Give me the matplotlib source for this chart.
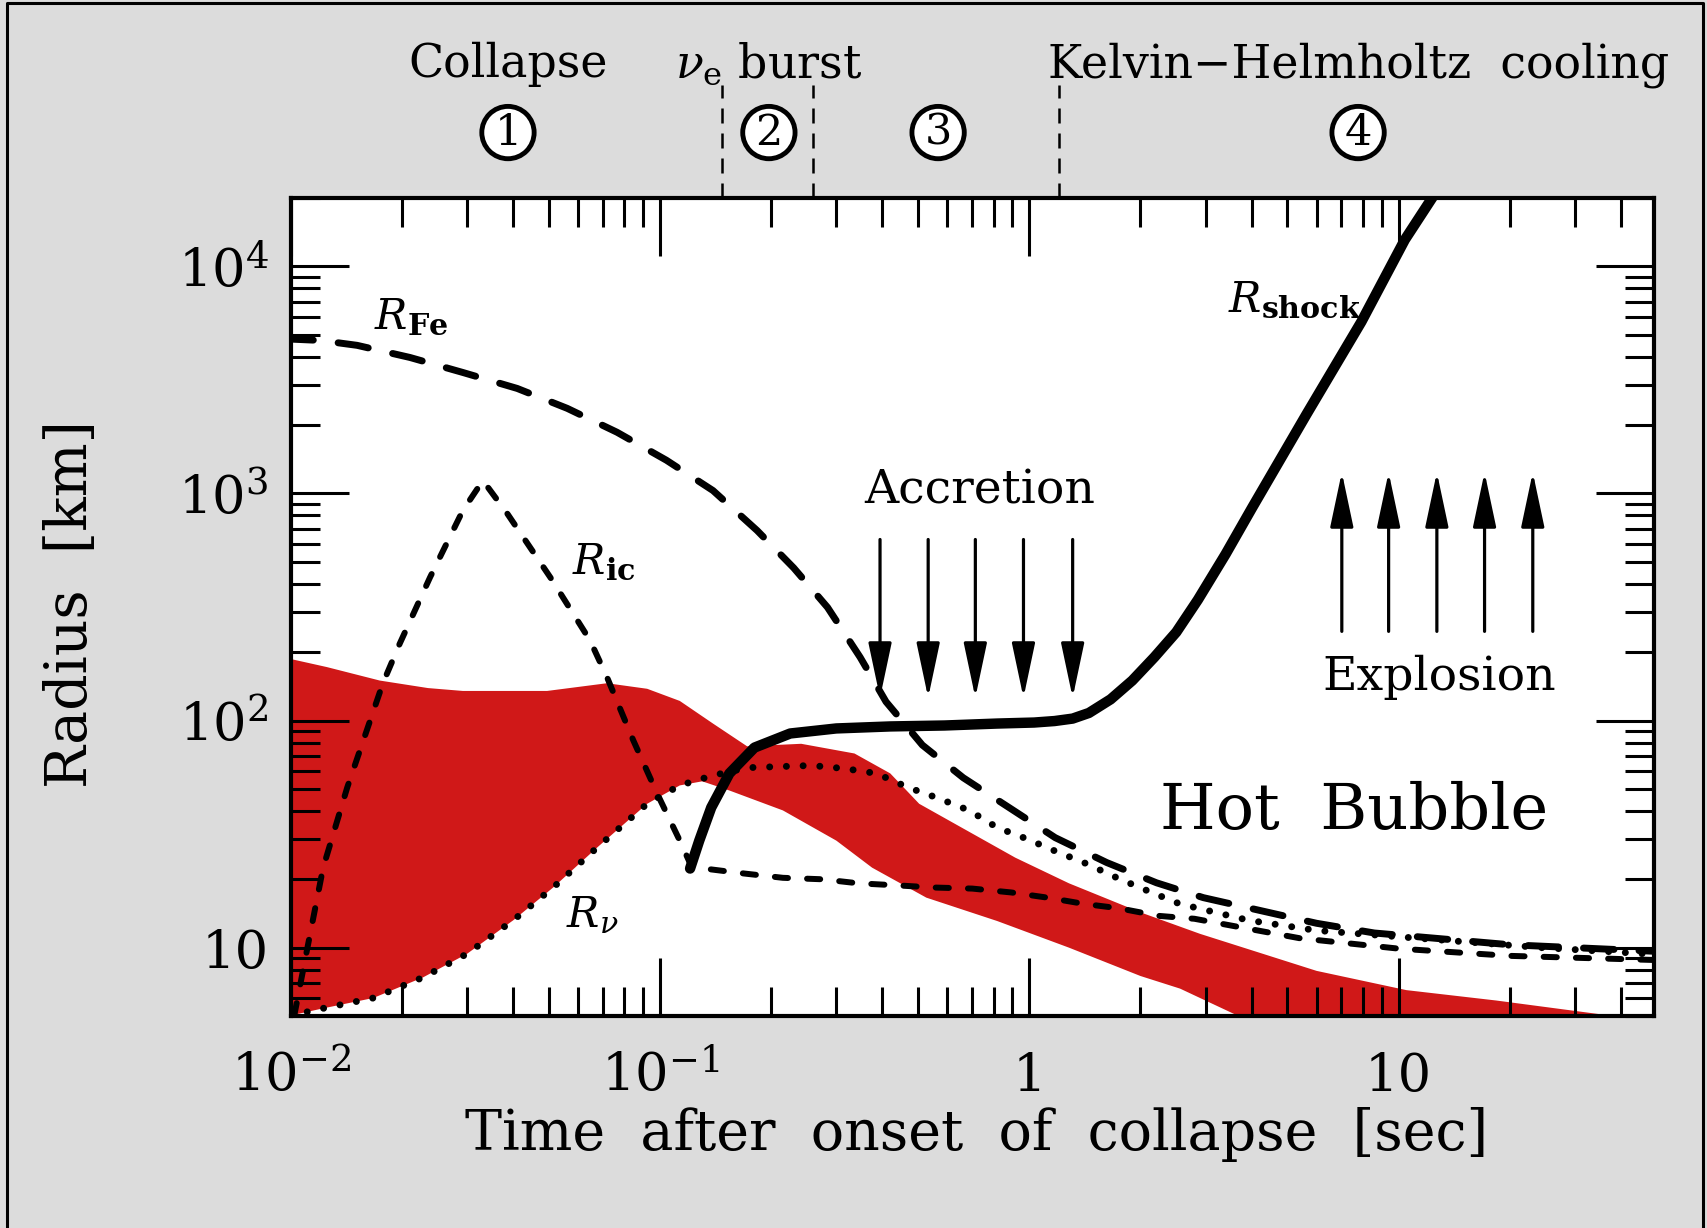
import numpy as np
import matplotlib
matplotlib.use("Agg")
import matplotlib.pyplot as plt
from matplotlib.lines import Line2D
import matplotlib.transforms as mtransforms

plt.rcParams["font.family"] = ["DejaVu Serif"]
plt.rcParams["mathtext.fontset"] = "dejavuserif"

# ---- data (time in s, radius in km) ----
fe_t = [0.0095, 0.012, 0.0151, 0.021, 0.0292, 0.041, 0.056, 0.0764, 0.104, 0.139,
        0.183, 0.23, 0.284, 0.348, 0.409, 0.513, 0.662, 0.889, 1.175, 1.62, 2.21,
        2.96, 6.0, 8.6, 20.0, 52.0]
fe_r = [4800, 4720, 4490, 3970, 3410, 2900, 2370, 1860, 1400, 1030,
        687, 470, 315, 190, 121, 78, 56, 41, 30.5, 23.7, 19.3,
        16.6, 12.8, 11.6, 10.3, 9.6]

ic_t = [0.0102, 0.01104, 0.01222, 0.0142, 0.01774, 0.0197, 0.0238, 0.0292, 0.0331,
        0.0385, 0.0504, 0.0646, 0.0718, 0.0845, 0.0982, 0.113, 0.122, 0.1315, 0.169,
        0.215, 0.275, 0.344, 0.439, 0.549, 0.700, 0.893, 1.12, 1.40, 1.75, 2.24,
        2.80, 5.4, 10.0, 20.0, 52.0]
ic_r = [5.0, 9.7, 22.5, 50.7, 146, 218, 427, 841, 1140,
        817, 427, 225, 155, 82, 47.6, 29.6, 22.5, 22.3, 21.2,
        20.3, 20.0, 19.2, 18.8, 18.4, 18.2, 17.5, 16.6, 15.6, 14.9, 13.8,
        13.4, 11.0, 9.9, 9.2, 8.8]

nu_t = [0.0100, 0.0104, 0.0122, 0.0167, 0.0228, 0.030, 0.040, 0.0513, 0.0675, 0.0922,
        0.113, 0.139, 0.172, 0.257, 0.315, 0.385, 0.470, 0.560, 0.687, 0.818, 0.98,
        1.17, 1.43, 1.75, 2.09, 2.55, 3.92, 6.0, 10.5, 24.4, 52.0]
nu_r = [5.0, 5.1, 5.4, 6.0, 7.4, 9.4, 13.2, 18.4, 27.6, 43,
        51.8, 57.3, 62, 63.4, 61.5, 58.5, 50.7, 45.8, 40.2, 33.8, 30.2,
        26.7, 23.4, 20.1, 17.8, 15.6, 13.2, 11.9, 11.1, 10.0, 9.3]

shock_t = [0.1205, 0.1276, 0.1375, 0.154, 0.180, 0.225, 0.300, 0.420, 0.589, 0.818,
           1.03, 1.17, 1.31, 1.45, 1.66, 1.90, 2.18, 2.50, 2.86, 3.40, 4.02, 5.64,
           7.93, 10.4, 12.4]
shock_r = [22.3, 29.6, 41.4, 58.5, 76, 87.7, 92.3, 94.2, 95.1, 97,
           98, 99.5, 102, 108, 124, 150, 190, 245, 340, 540, 870, 2240,
           5700, 13100, 20300]

# red band (neutrino-sphere region)
band_up_t = [0.0095, 0.0125, 0.0174, 0.0235, 0.0292, 0.0494, 0.0718, 0.0922, 0.113, 0.139,
             0.172, 0.241, 0.336, 0.420, 0.503, 0.655, 0.916, 1.28, 2.0, 2.90, 6.0, 10.5,
             18.4, 38.2, 52.0]
band_up_r = [190, 172, 150, 139, 135, 135, 146, 138, 122, 97,
             77, 79, 71.6, 58.5, 43, 33.8, 24.9, 19.2, 14.3, 11.5, 7.9, 6.5,
             5.85, 5.0, 4.6]
band_lo_t = [0.0095, 0.0104, 0.0122, 0.0167, 0.0228, 0.030, 0.040, 0.0513, 0.0675, 0.0922,
             0.113, 0.130, 0.154, 0.215, 0.300, 0.375, 0.526, 0.818, 1.28, 2.0, 2.56,
             3.59, 52.0]
band_lo_r = [4.0, 5.1, 5.4, 6.0, 7.4, 9.4, 13.2, 18.4, 27.6, 43,
             51.8, 54, 49.2, 40.2, 29.6, 22.5, 16.6, 13.1, 10.0, 7.5, 6.6,
             5.1, 3.0]

phase_bounds = [0.147, 0.26, 1.205]
phase_num_t = [0.0387, 0.197, 0.566, 7.77]
phase_num = ["1", "2", "3", "4"]

accr_t = [0.394, 0.532, 0.714, 0.964, 1.31]
accr_r = (627, 126)
expl_t = [7.02, 9.40, 12.7, 17.1, 23.1]
expl_r = (247, 1240)

red = "#d01818"

fig = plt.figure(figsize=(17.07, 12.28), dpi=100)
fig.patch.set_facecolor("#dcdcdc")
ax = fig.add_axes([291 / 1707, 1 - 1016 / 1228, 1363 / 1707, 818 / 1228])
ax.set_facecolor("white")
ax.set_xscale("log")
ax.set_yscale("log")
ax.set_xlim(0.01, 49.2)
ax.set_ylim(5, 2e4)

ax.fill(np.r_[band_up_t, band_lo_t[::-1]], np.r_[band_up_r, band_lo_r[::-1]],
        color=red, lw=0, zorder=1)

ax.plot(fe_t, fe_r, color="k", lw=5, dashes=(4.4, 3.6), dash_capstyle="round", zorder=3)
ax.plot(ic_t, ic_r, color="k", lw=4.3, dashes=(2.2, 3.2), dash_capstyle="round", zorder=3)
ax.plot(nu_t, nu_r, color="k", lw=5, dashes=(0.01, 2.4), dash_capstyle="round", zorder=3)
ax.plot(shock_t, shock_r, color="k", lw=7.5, solid_capstyle="round", zorder=4)

# arrows
for t in accr_t:
    ax.annotate("", xy=(t, accr_r[1]), xytext=(t, accr_r[0]),
                arrowprops=dict(arrowstyle="-|>,head_length=1.7,head_width=0.36",
                                mutation_scale=20, lw=2.3, color="k",
                                shrinkA=0, shrinkB=0))
for t in expl_t:
    ax.annotate("", xy=(t, expl_r[1]), xytext=(t, expl_r[0]),
                arrowprops=dict(arrowstyle="-|>,head_length=1.7,head_width=0.36",
                                mutation_scale=20, lw=2.3, color="k",
                                shrinkA=0, shrinkB=0))

# labels inside
ax.text(0.0168, 6000, r"$R_{\mathbf{Fe}}$", fontsize=31, ha="left", va="center")
ax.text(0.0577, 500, r"$R_{\mathbf{ic}}$", fontsize=31, ha="left", va="center")
ax.text(0.0556, 13.8, r"$R_{\nu}$", fontsize=31, ha="left", va="center")
ax.text(3.46, 7160, r"$R_{\mathbf{shock}}$", fontsize=31, ha="left", va="center")
ax.text(0.736, 1030, "Accretion", fontsize=34, ha="center", va="center")
ax.text(12.9, 155, "Explosion", fontsize=34, ha="center", va="center")
ax.text(7.6, 39.7, "Hot  Bubble", fontsize=46, ha="center", va="center")

# phase boundaries above the plot
trans = mtransforms.blended_transform_factory(ax.transData, ax.transAxes)
for t in phase_bounds:
    ax.plot([t, t], [1.0, 1.138], transform=trans, color="k", lw=1.8,
            dashes=(6, 4), clip_on=False)
for t, s in zip(phase_num_t, phase_num):
    ax.text(t, 1.08, s, transform=trans, fontsize=31, ha="center", va="center",
            bbox=dict(boxstyle="circle,pad=0.12", fc="white", ec="k", lw=3.5))
ax.text(0.0387, 1.163, "Collapse", transform=trans, fontsize=33, ha="center", va="center")
ax.text(0.196, 1.163, r"$\nu_{\rm e}$ burst", transform=trans, fontsize=33,
        ha="center", va="center")
ax.text(7.8, 1.163, "Kelvin\u2212Helmholtz  cooling", transform=trans, fontsize=33,
        ha="center", va="center")

# ticks
ax.tick_params(which="both", direction="in", top=True, right=True, width=2.2, colors="k")
ax.tick_params(which="major", length=42, labelsize=38)
ax.tick_params(which="minor", length=21)
ax.tick_params(axis="x", which="major", pad=54)
ax.tick_params(axis="y", which="major", pad=16)
ax.set_xticks([0.01, 0.1, 1, 10])
ax.set_xticklabels([r"$10^{-2}$", r"$10^{-1}$", "1", "10"])
ax.set_yticks([10, 100, 1000, 10000])
ax.set_yticklabels(["10", r"$10^2$", r"$10^3$", r"$10^4$"])
for lab in ax.get_xticklabels():
    lab.set_va("baseline")
for sp in ax.spines.values():
    sp.set_linewidth(3)

fig.text(977 / 1707, 1 - 1134 / 1228, "Time  after  onset  of  collapse  [sec]",
         fontsize=40, ha="center", va="center")
fig.text(71 / 1707, 1 - 604 / 1228, "Radius  [km]", fontsize=41, rotation=90,
         ha="center", va="center")

# outer frame
W, H = 1707, 1228
fig.add_artist(Line2D([7 / W, 7 / W, 1703 / W, 1703 / W], [0, 1 - 3 / H, 1 - 3 / H, 0],
                      color="k", lw=2.2, transform=fig.transFigure))

fig.savefig("out.png", dpi=100, facecolor=fig.get_facecolor())
